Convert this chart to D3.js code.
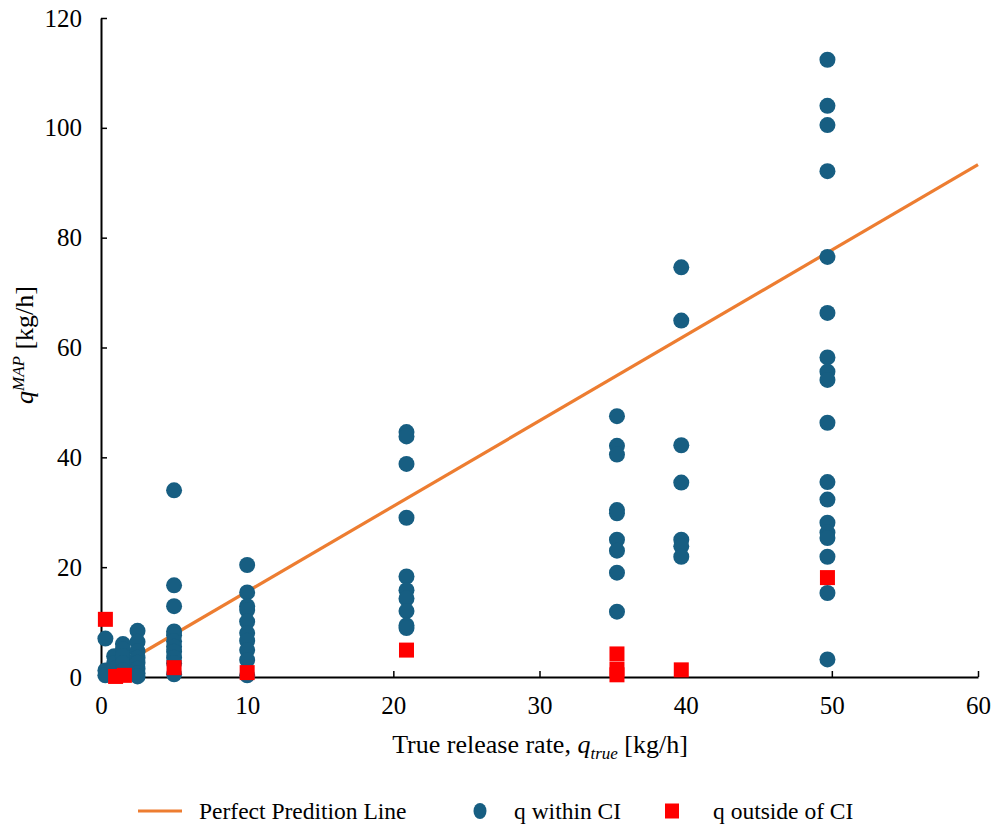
<!DOCTYPE html>
<html>
<head>
<meta charset="utf-8">
<script src="https://cdn.jsdelivr.net/npm/d3@7"></script>
<style>
  html, body { margin: 0; padding: 0; background: #fff; }
  svg { display: block; }
  svg text { font-family: "Liberation Serif", "Times New Roman", serif; fill: #000; }
</style>
</head>
<body>
<svg id="chart" width="994" height="826"></svg>
<script>
// True release rates (kg/h) at which the estimates were collected
const trueRates = [0.3, 0.9, 1.5, 2.5, 5.0, 10.0, 20.9, 35.3, 39.7, 49.7];

// MAP estimates whose confidence interval contains the true rate, per true rate
const withinEstimates = [
  [7.0, 1.2, 0.3],
  [3.8, 2.5, 1.5],
  [6.0, 5.0, 3.8, 2.5, 1.2],
  [8.4, 6.4, 4.7, 3.5, 2.6, 1.5, 0.7, 0.1],
  [34.0, 16.7, 12.9, 8.3, 7.6, 6.5, 5.5, 4.6, 3.5, 2.5, 0.5],
  [20.4, 15.4, 12.9, 12.2, 10.1, 8.0, 6.6, 4.9, 3.1, 0.3],
  [44.6, 43.8, 38.8, 29.0, 18.3, 15.8, 14.3, 12.0, 9.4, 8.9],
  [47.5, 42.1, 40.5, 30.4, 29.8, 25.0, 23.0, 19.0, 11.9],
  [74.6, 64.9, 42.2, 35.4, 25.0, 23.8, 21.9],
  [112.4, 104.0, 100.5, 92.1, 76.5, 66.3, 58.2, 55.6, 54.1, 46.3, 35.5, 32.3, 28.1, 26.3, 25.3, 21.9, 15.3, 3.2]
];

// MAP estimates falling outside the confidence interval
const outsideX = [0.3, 1.0, 1.6, 5.0, 10.0, 20.9, 35.3, 35.3, 35.3, 39.7, 49.7];
const outsideY = [10.5, 0.1, 0.3, 1.7, 0.8, 4.9, 4.2, 1.4, 0.4, 1.3, 18.1];

// Reference line
const lineX = [0, 60];
const lineY = [0, 93.3];

const xTicks = [0, 10, 20, 30, 40, 50, 60];
const yTicks = [0, 20, 40, 60, 80, 100, 120];

const legendLabels = ["Perfect Predition Line", "q within CI", "q outside of CI"];

const colors = { line: "#ED7D31", within: "#175E82", outside: "#FF0000" };

const svg = d3.select("#chart");
const margin = { left: 101, right: 16, top: 18, bottom: 149 };
const W = 994, H = 826;

const x = d3.scaleLinear().domain([0, 60]).range([margin.left, W - margin.right]);
const y = d3.scaleLinear().domain([0, 120]).range([H - margin.bottom, margin.top]);

// Axes
const xAxis = svg.append("g")
  .attr("transform", `translate(0,${y(0)})`)
  .call(d3.axisBottom(x).tickValues(xTicks).tickSizeInner(-6).tickSizeOuter(0).tickPadding(19));
const yAxis = svg.append("g")
  .attr("transform", `translate(${x(0)},0)`)
  .call(d3.axisLeft(y).tickValues(yTicks).tickSizeInner(-6).tickSizeOuter(0).tickPadding(19));

[xAxis, yAxis].forEach(g => {
  g.attr("font-family", null).attr("font-size", null);
  g.select(".domain").attr("stroke", "#000").attr("stroke-width", 2);
  g.selectAll(".tick line").attr("stroke", "#000").attr("stroke-width", 1.5);
  g.selectAll(".tick text")
    .attr("fill", "#000")
    .attr("font-family", "Liberation Serif")
    .attr("font-size", 25);
});

// Reference line
const lineData = lineX.map((v, i) => [v, lineY[i]]);
svg.append("path")
  .datum(lineData)
  .attr("fill", "none")
  .attr("stroke", colors.line)
  .attr("stroke-width", 3.2)
  .attr("d", d3.line().x(d => x(d[0])).y(d => y(d[1])));

// Estimates within CI
const withinPts = [];
trueRates.forEach((r, i) => withinEstimates[i].forEach(v => withinPts.push([r, v])));
svg.append("g").selectAll("circle")
  .data(withinPts)
  .join("circle")
  .attr("cx", d => x(d[0]))
  .attr("cy", d => y(d[1]))
  .attr("r", 8)
  .attr("fill", colors.within);

// Estimates outside CI
const sq = 15;
svg.append("g").selectAll("rect")
  .data(outsideX.map((v, i) => [v, outsideY[i]]))
  .join("rect")
  .attr("x", d => x(d[0]) - sq / 2)
  .attr("y", d => y(d[1]) - sq / 2)
  .attr("width", sq)
  .attr("height", sq)
  .attr("fill", colors.outside);

// Axis titles
const xTitle = svg.append("text")
  .attr("x", 540).attr("y", 753)
  .attr("text-anchor", "middle")
  .attr("font-size", 26);
xTitle.append("tspan").text("True release rate, ");
xTitle.append("tspan").attr("font-style", "italic").text("q");
xTitle.append("tspan").attr("font-style", "italic").attr("font-size", 17).attr("dy", 6).text("true");
xTitle.append("tspan").attr("dy", -6).text(" [kg/h]");

const yTitle = svg.append("text")
  .attr("transform", "translate(33,345) rotate(-90)")
  .attr("text-anchor", "middle")
  .attr("font-size", 26);
yTitle.append("tspan").attr("font-style", "italic").text("q");
yTitle.append("tspan").attr("font-style", "italic").attr("font-size", 17).attr("dy", -9).text("MAP");
yTitle.append("tspan").attr("dy", 9).text(" [kg/h]");

// Legend
const ly = 811;
const legend = svg.append("g").attr("font-size", 23.5);
legend.append("line")
  .attr("x1", 138).attr("x2", 182).attr("y1", ly).attr("y2", ly)
  .attr("stroke", colors.line).attr("stroke-width", 3.2);
legend.append("text").attr("x", 199).attr("y", ly + 8).text(legendLabels[0]);
legend.append("ellipse")
  .attr("cx", 480).attr("cy", ly).attr("rx", 6.5).attr("ry", 8)
  .attr("fill", colors.within);
legend.append("text").attr("x", 514).attr("y", ly + 8).text(legendLabels[1]);
legend.append("rect")
  .attr("x", 665).attr("y", ly - 7.5).attr("width", 14).attr("height", 15)
  .attr("fill", colors.outside);
legend.append("text").attr("x", 713).attr("y", ly + 8).text(legendLabels[2]);
</script>
</body>
</html>
